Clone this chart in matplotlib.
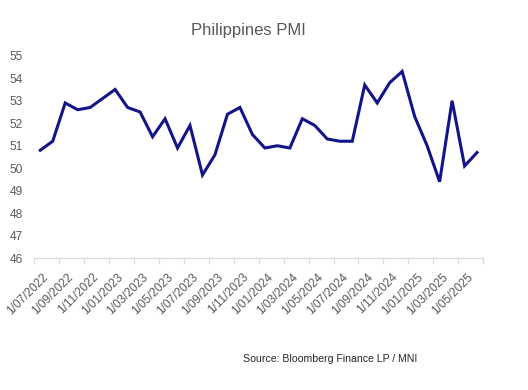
import matplotlib
matplotlib.use("Agg")
import matplotlib.pyplot as plt
import matplotlib.transforms as mtransforms
import numpy as np

# Philippines manufacturing PMI, Jul 2022 - Jun 2025 (monthly)
pmi = [50.8, 51.2, 52.9, 52.6, 52.7, 53.1,
       53.5, 52.7, 52.5, 51.4, 52.2, 50.9, 51.9, 49.7, 50.6, 52.4, 52.7, 51.5,
       50.9, 51.0, 50.9, 52.2, 51.9, 51.3, 51.2, 51.2, 53.7, 52.9, 53.8, 54.3,
       52.3, 51.0, 49.4, 53.0, 50.1, 50.7]
tick_labels = ["1/07/2022", "1/09/2022", "1/11/2022", "1/01/2023", "1/03/2023",
               "1/05/2023", "1/07/2023", "1/09/2023", "1/11/2023", "1/01/2024",
               "1/03/2024", "1/05/2024", "1/07/2024", "1/09/2024", "1/11/2024",
               "1/01/2025", "1/03/2025", "1/05/2025"]
y_ticks = [46, 47, 48, 49, 50, 51, 52, 53, 54, 55]

plt.rcParams['font.family'] = ['Liberation Sans', 'DejaVu Sans']

fig = plt.figure(figsize=(5.28, 3.9), dpi=100)
ax = fig.add_axes([34 / 528, 1 - 258.3 / 390, (483.3 - 34) / 528, (258.3 - 55.7) / 390])

x = np.arange(len(pmi)) + 0.5
ax.plot(x, pmi, color='#14148A', lw=2.2, solid_joinstyle='miter')

ax.set_xlim(0, 36)
ax.set_ylim(46, 55)
ax.set_yticks(y_ticks)
ax.set_yticklabels([str(v) for v in y_ticks], color='#595959', fontsize=8.6)

ax.set_xticks(np.arange(0, 37, 2))
ax.set_xticklabels(tick_labels + [""], rotation=45, ha='right', rotation_mode='anchor',
                   color='#595959', fontsize=8.6)
ax.tick_params(axis='x', length=4, width=0.8, color='#D9D9D9', pad=5)
ax.tick_params(axis='y', length=0, pad=8)
offset = mtransforms.ScaledTranslation(6 / 72, 0, fig.dpi_scale_trans)
for lab in ax.get_xticklabels():
    lab.set_transform(lab.get_transform() + offset)

for s in ['top', 'right', 'left']:
    ax.spines[s].set_visible(False)
ax.spines['bottom'].set_color('#D9D9D9')
ax.spines['bottom'].set_linewidth(0.9)

fig.text(248 / 528, 1 - 30 / 390, "Philippines PMI", ha='center', va='center',
         color='#595959', fontsize=12)
fig.text(243 / 528, 1 - 359 / 390, "Source: Bloomberg Finance LP / MNI", ha='left', va='center',
         color='#262626', fontsize=7.6)

fig.savefig("out.png", dpi=100)
